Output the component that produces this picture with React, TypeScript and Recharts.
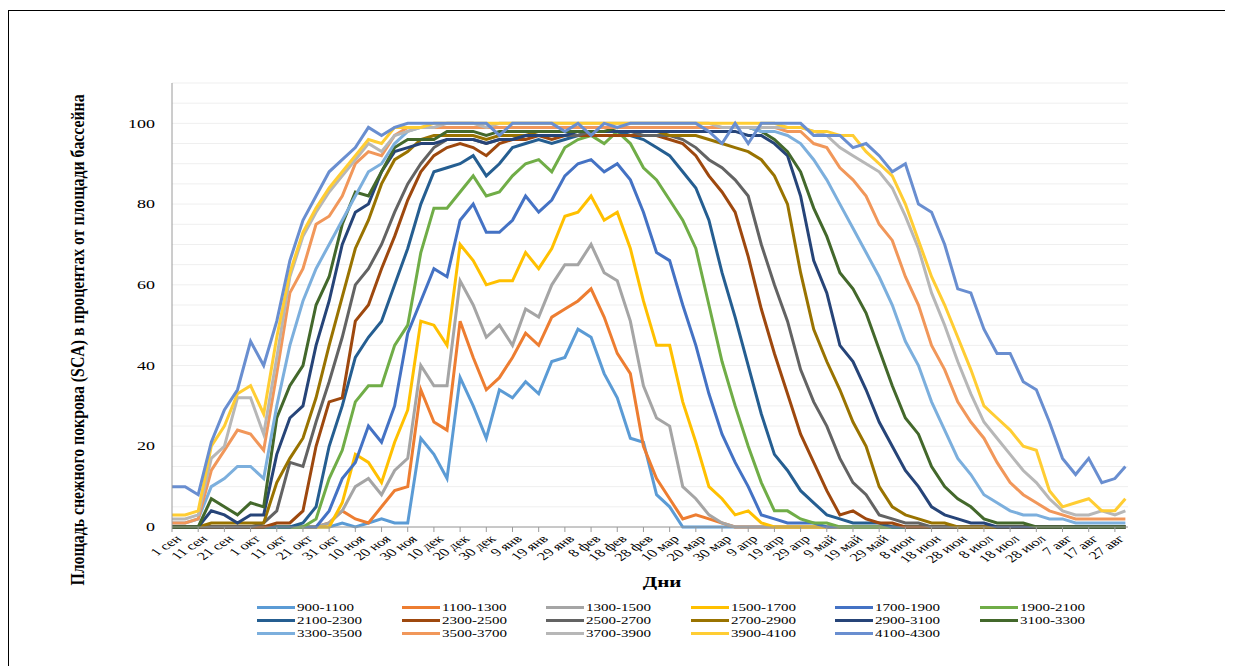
// Площадь снежного покрова по высотным зонам бассейна, сентябрь–август.
import { CartesianGrid, Line, LineChart, XAxis, YAxis } from "recharts";

// дни от 1 сентября, в которые сняты значения
const DAYS = [
  0, 5, 10, 15, 20, 25, 30, 35, 40, 45,
  50, 55, 60, 65, 70, 75, 80, 85, 90, 95,
  100, 105, 110, 115, 120, 125, 130, 135, 140, 145,
  150, 155, 160, 165, 170, 175, 180, 185, 190, 195,
  200, 205, 210, 215, 220, 225, 230, 235, 240, 245,
  250, 255, 260, 265, 270, 275, 280, 285, 290, 295,
  300, 305, 310, 315, 320, 325, 330, 335, 340, 345,
  350, 355, 360, 364,
];

const TICK_DAYS = [
  0, 10, 20, 30, 40, 50, 60, 70, 80, 90, 100, 110, 120, 130, 140, 150, 160, 170, 180,
  190, 200, 210, 220, 230, 240, 250, 260, 270, 280, 290, 300, 310, 320, 330, 340, 350, 360,
];

const TICK_LABELS = [
  "1 сен", "11 сен", "21 сен", "1 окт", "11 окт", "21 окт", "31 окт", "10 ноя", "20 ноя",
  "30 ноя", "10 дек", "20 дек", "30 дек", "9 янв", "19 янв", "29 янв", "8 фев", "18 фев",
  "28 фев", "10 мар", "20 мар", "30 мар", "9 апр", "19 апр", "29 апр", "9 май", "19 май",
  "29 май", "8 июн", "18 июн", "28 июн", "8 июл", "18 июл", "28 июл", "7 авг", "17 авг", "27 авг",
];

const Y_TICKS = [0, 5, 10, 15, 20, 25, 30, 35, 40, 45, 50, 55, 60, 65, 70, 75, 80, 85, 90, 95, 100, 105, 110];

const S900 = [
  0, 0, 0, 0, 0, 0, 0, 0, 0, 0,
  0, 0, 0, 1, 0, 1, 2, 1, 1, 22,
  18, 12, 37, 30, 22, 34, 32, 36, 33, 41,
  42, 49, 47, 38, 32, 22, 21, 8, 5, 0,
  0, 0, 0, 0, 0, 0, 0, 0, 0, 0,
  0, 0, 0, 0, 0, 0, 0, 0, 0, 0,
  0, 0, 0, 0, 0, 0, 0, 0, 0, 0,
  0, 0, 0, 0,
];
const S1100 = [
  0, 0, 0, 0, 0, 0, 0, 0, 0, 0,
  0, 0, 1, 4, 2, 1, 5, 9, 10, 34,
  26, 24, 51, 42, 34, 37, 42, 48, 45, 52,
  54, 56, 59, 52, 43, 38, 20, 12, 7, 2,
  3, 2, 1, 0, 0, 0, 0, 0, 0, 0,
  0, 0, 0, 0, 0, 0, 0, 0, 0, 0,
  0, 0, 0, 0, 0, 0, 0, 0, 0, 0,
  0, 0, 0, 0,
];
const S1300 = [
  0, 0, 0, 0, 0, 0, 0, 0, 0, 0,
  0, 0, 1, 4, 10, 12, 8, 14, 17, 40,
  35, 35, 61, 55, 47, 50, 45, 54, 52, 60,
  65, 65, 70, 63, 61, 51, 35, 27, 25, 10,
  7, 3, 1, 0, 0, 0, 0, 0, 0, 0,
  0, 0, 0, 0, 0, 0, 0, 0, 0, 0,
  0, 0, 0, 0, 0, 0, 0, 0, 0, 0,
  0, 0, 0, 0,
];
const S1500 = [
  0, 0, 0, 0, 0, 0, 0, 0, 0, 0,
  0, 0, 0, 6, 18, 16, 11, 21, 29, 51,
  50, 45, 70, 66, 60, 61, 61, 68, 64, 69,
  77, 78, 82, 76, 78, 69, 56, 45, 45, 31,
  21, 10, 7, 3, 4, 1, 0, 0, 0, 0,
  0, 0, 0, 0, 0, 0, 0, 0, 0, 0,
  0, 0, 0, 0, 0, 0, 0, 0, 0, 0,
  0, 0, 0, 0,
];
const S1700 = [
  0, 0, 0, 0, 0, 0, 0, 0, 0, 0,
  0, 0, 4, 12, 16, 25, 21, 30, 48, 56,
  64, 62, 76, 80, 73, 73, 76, 82, 78, 81,
  87, 90, 91, 88, 90, 86, 78, 68, 66, 55,
  45, 33, 23, 16, 10, 3, 2, 1, 1, 1,
  0, 0, 0, 0, 0, 0, 0, 0, 0, 0,
  0, 0, 0, 0, 0, 0, 0, 0, 0, 0,
  0, 0, 0, 0,
];
const S1900 = [
  0, 0, 0, 0, 0, 0, 0, 0, 0, 0,
  0, 2, 12, 19, 31, 35, 35, 45, 50, 68,
  79, 79, 83, 87, 82, 83, 87, 90, 91, 88,
  94, 96, 97, 95, 98, 95, 89, 86, 81, 76,
  69, 55, 41, 30, 20, 11, 4, 4, 2, 1,
  1, 0, 0, 0, 0, 0, 0, 0, 0, 0,
  0, 0, 0, 0, 0, 0, 0, 0, 0, 0,
  0, 0, 0, 0,
];
const S2100 = [
  0, 0, 0, 0, 0, 0, 0, 0, 0, 0,
  1, 5, 20, 30, 42, 47, 51, 60, 69, 80,
  88, 89, 90, 92, 87, 90, 94, 95, 96, 95,
  96, 97, 98, 98, 98, 97, 96, 94, 92, 88,
  84, 76, 63, 52, 40, 28, 18, 14, 9, 6,
  3, 2, 1, 1, 1, 0, 0, 0, 0, 0,
  0, 0, 0, 0, 0, 0, 0, 0, 0, 0,
  0, 0, 0, 0,
];
const S2300 = [
  0, 0, 0, 0, 0, 0, 0, 0, 1, 1,
  4, 20, 31, 32, 51, 55, 64, 72, 81, 88,
  92, 94, 95, 94, 92, 95, 96, 96, 97, 96,
  97, 97, 97, 97, 97, 97, 97, 97, 96, 95,
  92, 87, 83, 78, 67, 54, 43, 33, 23, 16,
  9, 3, 4, 2, 1, 1, 0, 0, 0, 0,
  0, 0, 0, 0, 0, 0, 0, 0, 0, 0,
  0, 0, 0, 0,
];
const S2500 = [
  0, 0, 0, 0, 0, 0, 0, 1, 4, 16,
  15, 26, 36, 47, 60, 64, 70, 78, 85, 90,
  94, 96, 96, 96, 95, 96, 96, 97, 97, 97,
  97, 97, 98, 98, 98, 98, 97, 97, 97, 96,
  94, 91, 89, 86, 82, 70, 60, 51, 39, 31,
  25, 17, 11, 8, 3, 2, 1, 1, 0, 0,
  0, 0, 0, 0, 0, 0, 0, 0, 0, 0,
  0, 0, 0, 0,
];
const S2700 = [
  0, 0, 0, 1, 1, 1, 1, 1, 11, 17,
  22, 32, 45, 57, 69, 76, 85, 91, 93, 96,
  97, 97, 97, 97, 96, 97, 97, 97, 98, 98,
  98, 98, 98, 98, 98, 98, 98, 98, 97, 97,
  97, 96, 95, 94, 93, 91, 87, 80, 63, 49,
  41, 34, 26, 20, 10, 5, 3, 2, 1, 1,
  0, 0, 0, 0, 0, 0, 0, 0, 0, 0,
  0, 0, 0, 0,
];
const S2900 = [
  0, 0, 0, 4, 3, 1, 3, 3, 18, 27,
  30, 45, 56, 70, 78, 80, 88, 93, 94, 95,
  95, 96, 96, 96, 95, 96, 96, 97, 97, 97,
  97, 98, 98, 98, 98, 98, 98, 98, 98, 98,
  98, 98, 98, 98, 97, 97, 95, 92, 82, 66,
  58, 45, 41, 34, 26, 20, 14, 10, 5, 3,
  2, 1, 1, 0, 0, 0, 0, 0, 0, 0,
  0, 0, 0, 0,
];
const S3100 = [
  0, 0, 0, 7, 5, 3, 6, 5, 27, 35,
  40, 55, 62, 75, 83, 82, 88, 94, 96, 96,
  96, 98, 98, 98, 97, 98, 98, 98, 98, 98,
  98, 98, 98, 98, 99, 99, 99, 99, 99, 99,
  99, 99, 99, 99, 99, 98, 96, 93, 88, 79,
  72, 63, 59, 53, 44, 35, 27, 23, 15, 10,
  7, 5, 2, 1, 1, 1, 0, 0, 0, 0,
  0, 0, 0, 0,
];
const S3300 = [
  1, 1, 2, 10, 12, 15, 15, 12, 30, 45,
  56, 64, 70, 76, 82, 88, 90, 95, 98, 99,
  99, 99, 99, 99, 99, 99, 99, 99, 99, 99,
  99, 99, 99, 99, 99, 99, 99, 99, 99, 99,
  99, 99, 99, 99, 99, 98, 98, 97, 95, 91,
  86, 80, 74, 68, 62, 55, 46, 40, 31, 24,
  17, 13, 8, 6, 4, 3, 3, 2, 2, 1,
  1, 1, 1, 1,
];
const S3500 = [
  1, 1, 2, 14, 19, 24, 23, 19, 38, 58,
  64, 75, 77, 82, 90, 93, 92, 97, 99, 99,
  99, 99, 99, 99, 99, 99, 99, 99, 99, 99,
  99, 99, 99, 99, 99, 99, 99, 99, 99, 99,
  99, 99, 99, 99, 99, 99, 99, 98, 98, 95,
  94, 89, 86, 82, 75, 71, 62, 55, 45, 39,
  31, 26, 22, 16, 11, 8, 6, 4, 3, 2,
  2, 2, 2, 2,
];
const S3700 = [
  2, 2, 3, 17, 20, 32, 32, 23, 42, 62,
  72, 78, 83, 87, 91, 95, 93, 97, 98, 99,
  99, 100, 100, 100, 99, 100, 100, 100, 100, 100,
  100, 100, 100, 100, 100, 100, 100, 100, 100, 100,
  100, 100, 99, 99, 99, 99, 99, 99, 99, 98,
  97, 94, 92, 90, 88, 84, 77, 69, 58, 50,
  41, 33, 26, 22, 18, 14, 11, 7, 4, 3,
  3, 4, 3, 4,
];
const S3900 = [
  3, 3, 4, 20, 25, 33, 35, 28, 47, 63,
  73, 79, 84, 88, 92, 96, 95, 99, 99, 99,
  100, 100, 100, 100, 100, 100, 100, 100, 100, 100,
  100, 100, 100, 100, 100, 100, 100, 100, 100, 100,
  100, 100, 100, 100, 100, 100, 100, 99, 99, 98,
  98, 97, 97, 93, 90, 87, 80, 71, 62, 55,
  47, 39, 30, 27, 24, 20, 19, 9, 5, 6,
  7, 4, 4, 7,
];
const S4100 = [
  10, 10, 8, 21, 29, 34, 46, 40, 51, 66,
  76, 82, 88, 91, 94, 99, 97, 99, 100, 100,
  100, 100, 100, 100, 100, 97, 100, 100, 100, 100,
  98, 100, 97, 100, 99, 100, 100, 100, 100, 100,
  100, 98, 95, 100, 95, 100, 100, 100, 100, 97,
  97, 97, 94, 95, 92, 88, 90, 80, 78, 70,
  59, 58, 49, 43, 43, 36, 34, 26, 17, 13,
  17, 11, 12, 15,
];

const SERIES = [
  { key: "s900", name: "900-1100", color: "#5B9BD5", values: S900 },
  { key: "s1100", name: "1100-1300", color: "#ED7D31", values: S1100 },
  { key: "s1300", name: "1300-1500", color: "#A5A5A5", values: S1300 },
  { key: "s1500", name: "1500-1700", color: "#FFC000", values: S1500 },
  { key: "s1700", name: "1700-1900", color: "#4472C4", values: S1700 },
  { key: "s1900", name: "1900-2100", color: "#70AD47", values: S1900 },
  { key: "s2100", name: "2100-2300", color: "#255E91", values: S2100 },
  { key: "s2300", name: "2300-2500", color: "#9E480E", values: S2300 },
  { key: "s2500", name: "2500-2700", color: "#636363", values: S2500 },
  { key: "s2700", name: "2700-2900", color: "#997300", values: S2700 },
  { key: "s2900", name: "2900-3100", color: "#264478", values: S2900 },
  { key: "s3100", name: "3100-3300", color: "#43682B", values: S3100 },
  { key: "s3300", name: "3300-3500", color: "#7CAFDD", values: S3300 },
  { key: "s3500", name: "3500-3700", color: "#F1975A", values: S3500 },
  { key: "s3700", name: "3700-3900", color: "#B7B7B7", values: S3700 },
  { key: "s3900", name: "3900-4100", color: "#FFCD33", values: S3900 },
  { key: "s4100", name: "4100-4300", color: "#698ED0", values: S4100 },
];

const data = DAYS.map((day, i) => {
  const row: Record<string, number> = { day };
  SERIES.forEach((s) => {
    row[s.key] = s.values[i];
  });
  return row;
});

const SERIF = '"Liberation Serif", "Times New Roman", serif';
// исходная картинка растянута по горизонтали примерно в 1.5 раза
const STRETCH = 1.5;

function DayTick(props: any) {
  const { x, y, payload } = props;
  const label = TICK_LABELS[TICK_DAYS.indexOf(payload.value)];
  return (
    <g transform={`translate(${x + 2},${y}) scale(${STRETCH},1) rotate(-45)`}>
      <text textAnchor="end" dy="0.72em" fontSize={11} fontFamily={SERIF} fill="#000">
        {label}
      </text>
    </g>
  );
}

function PctTick(props: any) {
  const { x, y, payload } = props;
  if (payload.value % 20 !== 0 || payload.value > 100) return <g />;
  return (
    <g transform={`translate(${x},${y}) scale(${STRETCH},1)`}>
      <text textAnchor="end" dy="0.35em" fontSize={12} fontFamily={SERIF} fill="#000">
        {payload.value}
      </text>
    </g>
  );
}

function BandLegend() {
  return (
    <div
      style={{
        position: "absolute",
        left: 248,
        top: 590,
        display: "grid",
        gridTemplateColumns: "repeat(6, 144.5px)",
        gridAutoRows: "13px",
      }}
    >
      {SERIES.map((s) => (
        <div key={s.key} style={{ display: "flex", alignItems: "center" }}>
          <span style={{ display: "inline-block", width: 38, height: 3, background: s.color }} />
          <span
            style={{
              display: "inline-block",
              marginLeft: 2,
              fontSize: 10,
              lineHeight: "13px",
              fontFamily: SERIF,
              whiteSpace: "nowrap",
              transform: `scaleX(${STRETCH})`,
              transformOrigin: "left center",
            }}
          >
            {s.name}
          </span>
        </div>
      ))}
    </div>
  );
}

export default function App() {
  return (
    <div
      style={{
        position: "relative",
        top: 2,
        width: 1225,
        height: 680,
        border: "1px solid #000",
        boxSizing: "border-box",
        background: "#fff",
      }}
    >
      <style>{"body{overflow:hidden}"}</style>
      <div style={{ position: "absolute", left: 0, top: 0 }}>
        <LineChart
          width={1223}
          height={600}
          data={data}
          margin={{ top: 72, right: 104, bottom: 34, left: 113 }}
        >
          <CartesianGrid vertical={false} stroke="#efefef" />
          <XAxis
            dataKey="day"
            type="number"
            domain={[0, 365]}
            ticks={TICK_DAYS}
            interval={0}
            height={50}
            stroke="#9a9a9a"
            tickSize={5}
            tickMargin={2}
            tick={<DayTick />}
          />
          <YAxis
            type="number"
            domain={[0, 110]}
            ticks={Y_TICKS}
            interval={0}
            width={50}
            stroke="#9a9a9a"
            tickLine={false}
            tickSize={0}
            tickMargin={17}
            tick={<PctTick />}
          />
          {SERIES.map((s) => (
            <Line
              key={s.key}
              type="linear"
              dataKey={s.key}
              name={s.name}
              stroke={s.color}
              strokeWidth={3}
              dot={false}
              isAnimationActive={false}
            />
          ))}
        </LineChart>
      </div>

      <svg
        width={1223}
        height={660}
        style={{ position: "absolute", left: 0, top: 0, pointerEvents: "none" }}
      >
        <text
          transform="translate(75,329) rotate(-90) scale(1,1.2)"
          textAnchor="middle"
          fontSize={15.8}
          fontWeight="bold"
          fontFamily={SERIF}
          fill="#000"
        >
          Площадь снежного покрова (SCA) в процентах от площади бассейна
        </text>
        <text
          transform={`translate(653,576) scale(${STRETCH},1)`}
          textAnchor="middle"
          fontSize={14}
          fontWeight="bold"
          fontFamily={SERIF}
          fill="#000"
        >
          Дни
        </text>
      </svg>

      <BandLegend />
    </div>
  );
}
